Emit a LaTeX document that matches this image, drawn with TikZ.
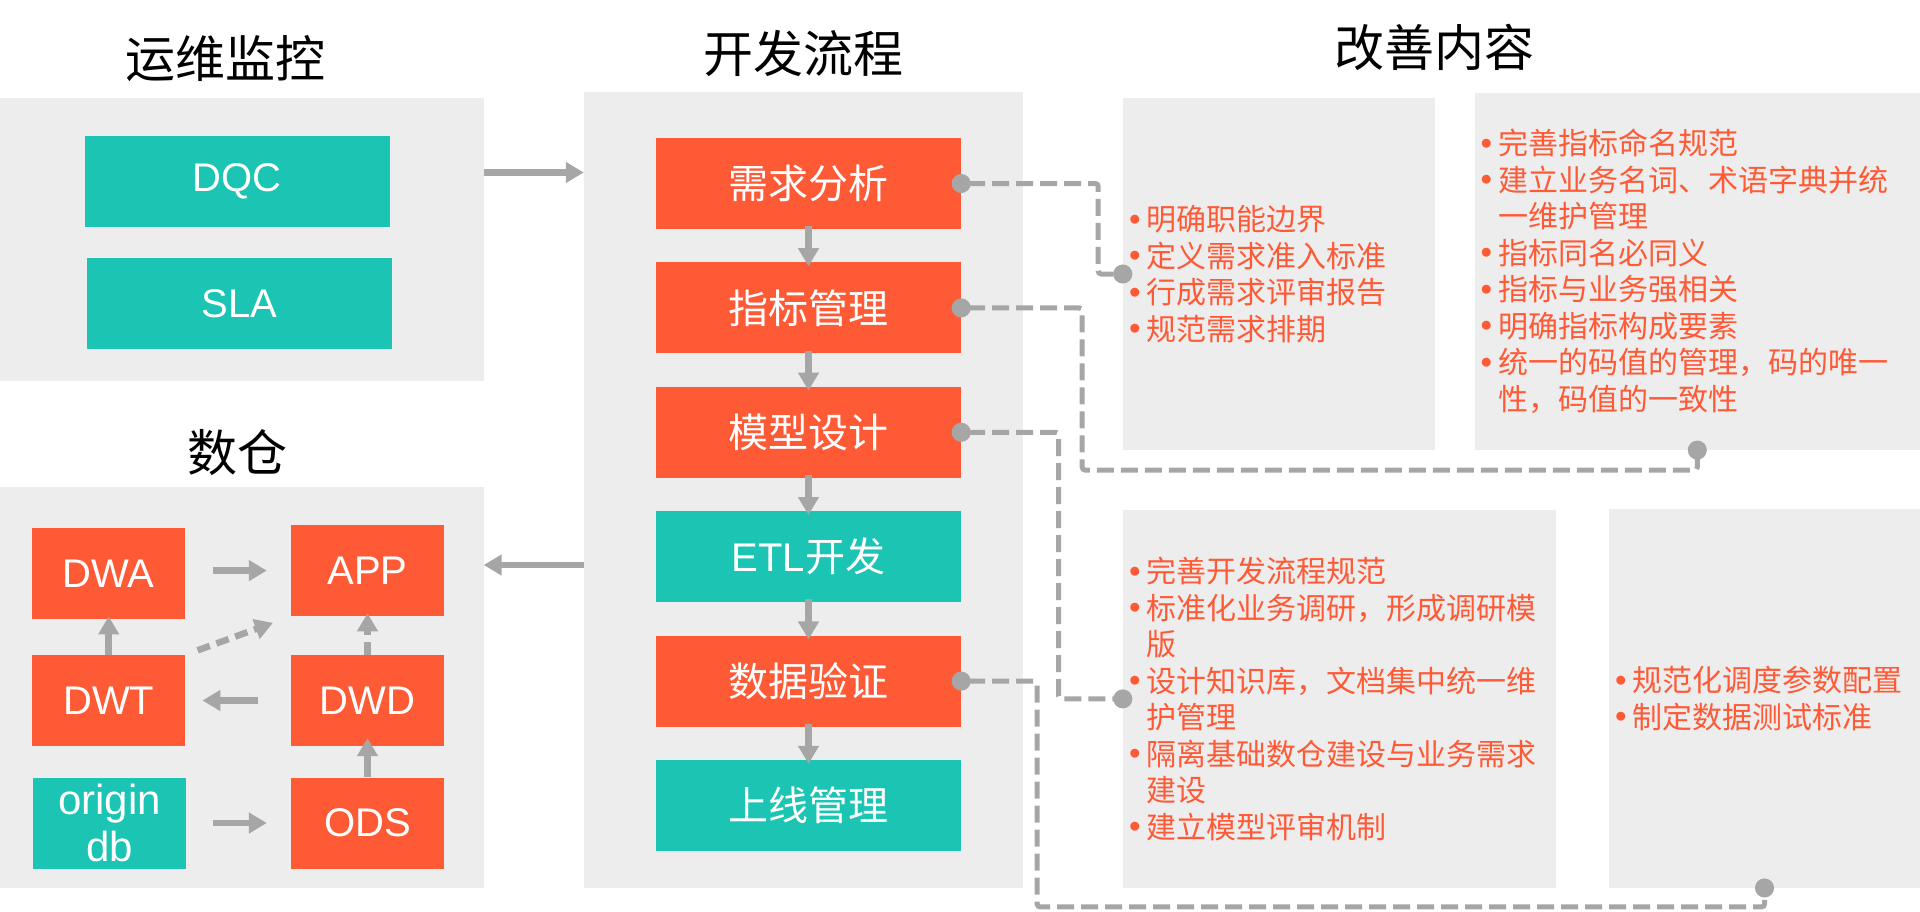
\documentclass[tikz,border=0pt]{standalone}
\usepackage{fontspec}
\setmainfont{Noto Sans CJK SC}
\newfontfamily\latinfont{Liberation Sans}
\usetikzlibrary{arrows.meta,positioning}
\definecolor{hot}{HTML}{FF5A36}
\definecolor{mint}{HTML}{1BC4B3}
\definecolor{bggray}{HTML}{EDEDED}
\definecolor{linegray}{HTML}{A6A6A6}
\newcommand\bl{\makebox[23.5pt]{\fontsize{10}{10}\selectfont\raisebox{7.5pt}{●}}}
\newcommand\ind{\hspace*{23.5pt}}
\newcommand\lat[1]{{\latinfont #1}}

\begin{document}
\begin{tikzpicture}[x=1pt,y=-1pt,
  panel/.style={fill=bggray,inner sep=0pt},
  head/.style={font=\fontsize{50}{60}\selectfont},
  obox/.style={fill=hot,text=white,inner sep=0pt,minimum width=305pt,minimum height=91pt,align=center,font=\fontsize{40}{48}\selectfont},
  tbox/.style={obox,fill=mint},
  sbox/.style={obox,minimum width=153pt},
  stbox/.style={tbox,minimum width=153pt},
  note/.style={fill=bggray,text=hot,inner sep=0pt,align=left,font=\fontsize{30}{36.5}\selectfont},
  arr/.style={draw=linegray,line width=6.5pt,-{Triangle[length=18pt,width=20pt]}},
  darr/.style={arr,dash pattern=on 13pt off 7pt},
  link/.style={draw=linegray,line width=5pt,dash pattern=on 17pt off 7pt,rounded corners=3pt,{Circle[length=19pt]}-{Circle[length=19pt]},shorten <=-9.5pt,shorten >=-9.5pt}]
\useasboundingbox (0,0) rectangle (1920,911);

\node[panel,minimum width=483.5pt,minimum height=283pt] (mon) at (241.75,239.5) {};
\node[panel,minimum width=483.5pt,minimum height=401pt] (dw) at (241.75,687.5) {};
\node[panel,minimum width=438.7pt,minimum height=795.5pt] (dev) at (803.35,489.75) {};

\node[head] (t1) at (225,59) {运维监控};
\node[head] (t2) at (237.5,453) {数仓};
\node[head] (t3) at (803.6,53) {开发流程};
\node[head] (t4) at (1434,47) {改善内容};

\node[tbox] (dqc) at (237.3,181) {\lat{DQC}};
\node[tbox] (sla) at (239.3,303.5) {\lat{SLA}};

\node[sbox] (dwa) at (108.7,573.7) {\lat{DWA}};
\node[sbox] (app) at (367.5,570.6) {\lat{APP}};
\node[sbox] (dwt) at (108.7,700.5) {\lat{DWT}};
\node[sbox] (dwd) at (367.5,700.5) {\lat{DWD}};
\node[stbox,font=\fontsize{42}{47}\selectfont] (org) at (109.5,823) {\lat{origin}\\\lat{db}};
\node[sbox] (ods) at (367.5,823) {\lat{ODS}};

\node[obox] (xq) at (808.5,183.5) {需求分析};
\node[obox,below=33pt of xq] (zb) {指标管理};
\node[obox,below=33pt of zb] (mx) {模型设计};
\node[tbox,below=33pt of mx] (etl) {\lat{ETL}开发};
\node[obox,below=33pt of etl] (yz) {数据验证};
\node[tbox,below=33pt of yz] (sx) {上线管理};

\node[note,minimum height=352pt,text width=312pt] (gs1) at (1279,274) {\bl 明确职能边界\\\bl 定义需求准入标准\\\bl 行成需求评审报告\\\bl 规范需求排期};
\node[note,minimum height=357pt,text width=445.4pt] (gs2) at (1697.3,271.4) {\bl 完善指标命名规范\\\bl 建立业务名词、术语字典并统\\\ind 一维护管理\\\bl 指标同名必同义\\\bl 指标与业务强相关\\\bl 明确指标构成要素\\\bl 统一的码值的管理，码的唯一\\\ind 性，码值的一致性};
\node[note,minimum height=377.7pt,text width=433pt] (gs3) at (1339.5,698.9) {\bl 完善开发流程规范\\\bl 标准化业务调研，形成调研模\\\ind 版\\\bl 设计知识库，文档集中统一维\\\ind 护管理\\\bl 隔离基础数仓建设与业务需求\\\ind 建设\\\bl 建立模型评审机制};
\node[note,minimum height=378.7pt,text width=311pt] (gs4) at (1764.5,698.4) {\bl 规范化调度参数配置\\\bl 制定数据测试标准};

\draw[arr] (mon.east |- 0,172.5) -- (dev.west |- 0,172.5);
\draw[arr] (dev.west |- 0,565) -- (dw.east |- 0,565);

\draw[arr,shorten <=-3pt,shorten >=-4pt] (xq) -- (zb);
\draw[arr,shorten <=-3pt,shorten >=-4pt] (zb) -- (mx);
\draw[arr,shorten <=-3pt,shorten >=-4pt] (mx) -- (etl);
\draw[arr,shorten <=-3pt,shorten >=-4pt] (etl) -- (yz);
\draw[arr,shorten <=-3pt,shorten >=-4pt] (yz) -- (sx);

\draw[arr,shorten <=28pt,shorten >=24pt] (dwa.east |- app) -- (app.west);
\draw[arr,shorten >=-3pt] (dwt) -- (dwa);
\draw[darr,shorten <=13pt,shorten >=19pt] (dwt.north east) -- (app.south west);
\draw[darr,shorten >=-3pt] (dwd) -- (app);
\draw[arr,shorten <=33pt,shorten >=17pt] (dwd.west) -- (dwt.east);
\draw[arr,shorten <=27pt,shorten >=24pt] (org.east |- ods) -- (ods.west);
\draw[arr,shorten >=-8pt] (ods) -- (dwd);

\draw[link] (xq.east) -- ++(137,0) |- (gs1.west);
\draw[link] (zb.east) -- ++(121,0) |- ([yshift=-20pt]gs2.south) -- (gs2.south);
\draw[link] (mx.east) -- ++(97.5,0) |- (gs3.west);
\draw[link] (yz.east) -- ++(76,0) |- ([yshift=-19pt]gs4.south) -- (gs4.south);
\end{tikzpicture}
\end{document}
